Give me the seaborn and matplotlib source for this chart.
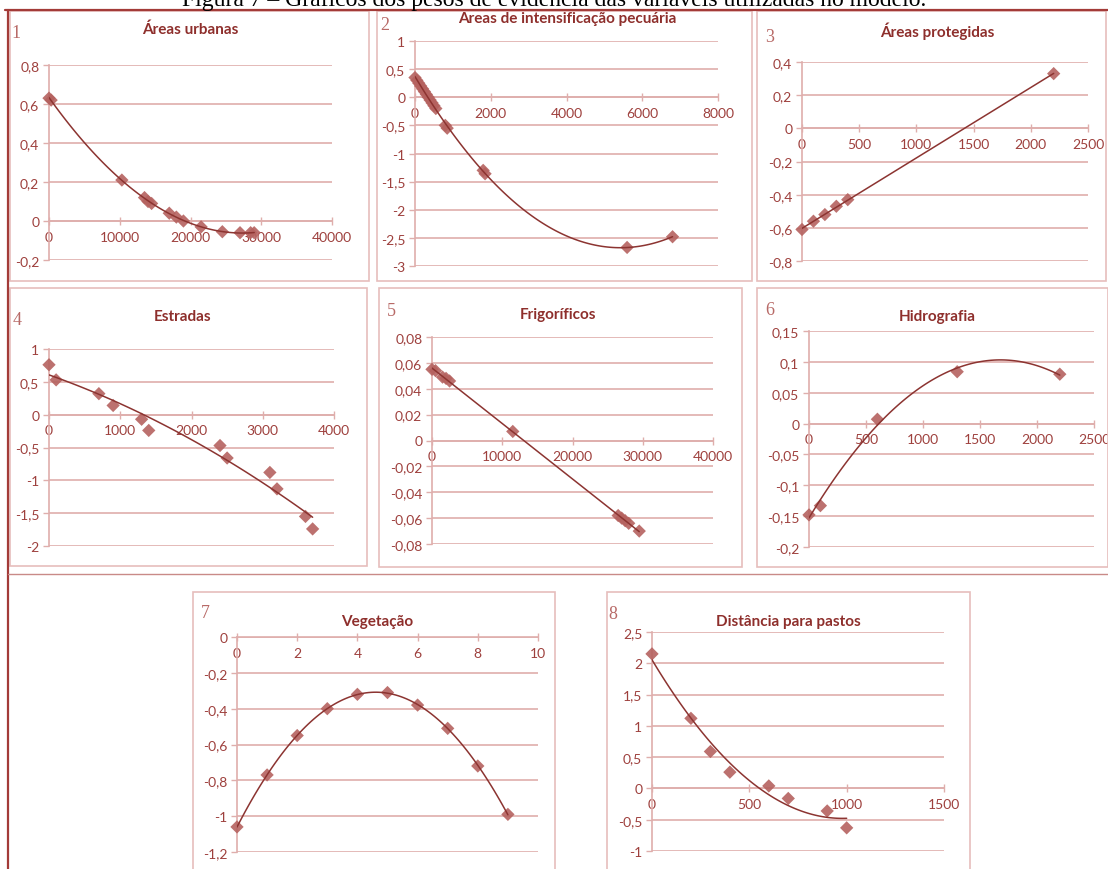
import numpy as np
import pandas as pd
import matplotlib
matplotlib.use("Agg")
import matplotlib.pyplot as plt
import seaborn as sns
from matplotlib.patches import Rectangle
from matplotlib.lines import Line2D
from matplotlib.ticker import FuncFormatter

sns.set_theme(style="white")
plt.rcParams["font.family"] = ["Liberation Sans Narrow", "Lato", "DejaVu Sans"]

W, H = 1108, 870

# ---------------- data ----------------
fig_title = "Figura 7 – Gráficos dos pesos de evidência das variáveis utilizadas no modelo."

t1 = "Áreas urbanas"
x1 = [0, 300, 10300, 13500, 14000, 14500, 17000, 18000, 19000, 21500, 24500, 27000, 28500, 29000]
y1 = [0.63, 0.62, 0.21, 0.12, 0.10, 0.09, 0.04, 0.02, 0.00, -0.03, -0.055, -0.06, -0.06, -0.06]
xt1 = [0, 10000, 20000, 30000, 40000]
yt1 = [-0.2, 0, 0.2, 0.4, 0.6, 0.8]

t2 = "Areas de intensificação pecuária"
x2 = [0, 50, 100, 150, 200, 250, 300, 350, 400, 450, 500, 550, 800, 850, 1800, 1850, 5600, 6800]
y2 = [0.35, 0.30, 0.25, 0.20, 0.15, 0.10, 0.05, 0.0, -0.05, -0.10, -0.15, -0.20, -0.50, -0.55, -1.30, -1.36, -2.67, -2.48]
xt2 = [0, 2000, 4000, 6000, 8000]
yt2 = [-3, -2.5, -2, -1.5, -1, -0.5, 0, 0.5, 1]

t3 = "Áreas protegidas"
x3 = [0, 100, 200, 300, 400, 2200]
y3 = [-0.61, -0.56, -0.52, -0.47, -0.43, 0.33]
xt3 = [0, 500, 1000, 1500, 2000, 2500]
yt3 = [-0.8, -0.6, -0.4, -0.2, 0, 0.2, 0.4]

t4 = "Estradas"
x4 = [0, 100, 700, 900, 1300, 1400, 2400, 2500, 3100, 3200, 3600, 3700]
y4 = [0.76, 0.53, 0.32, 0.14, -0.07, -0.24, -0.47, -0.66, -0.88, -1.13, -1.55, -1.74]
xt4 = [0, 1000, 2000, 3000, 4000]
yt4 = [-2, -1.5, -1, -0.5, 0, 0.5, 1]

t5 = "Frigoríficos"
x5 = [0, 500, 1500, 2000, 2500, 11500, 26500, 27000, 27500, 28000, 29500]
y5 = [0.055, 0.054, 0.049, 0.048, 0.046, 0.007, -0.058, -0.060, -0.062, -0.064, -0.070]
xt5 = [0, 10000, 20000, 30000, 40000]
yt5 = [-0.08, -0.06, -0.04, -0.02, 0, 0.02, 0.04, 0.06, 0.08]

t6 = "Hidrografia"
x6 = [0, 100, 600, 1300, 2200]
y6 = [-0.148, -0.133, 0.007, 0.084, 0.080]
xt6 = [0, 500, 1000, 1500, 2000, 2500]
yt6 = [-0.2, -0.15, -0.1, -0.05, 0, 0.05, 0.1, 0.15]

t7 = "Vegetação"
x7 = [0, 1, 2, 3, 4, 5, 6, 7, 8, 9]
y7 = [-1.06, -0.77, -0.55, -0.40, -0.32, -0.31, -0.38, -0.51, -0.72, -0.99]
xt7 = [0, 2, 4, 6, 8, 10]
yt7 = [-1.2, -1, -0.8, -0.6, -0.4, -0.2, 0]

t8 = "Distância para pastos"
x8 = [0, 200, 300, 400, 600, 700, 900, 1000]
y8 = [2.15, 1.12, 0.59, 0.26, 0.04, -0.16, -0.36, -0.63]
xt8 = [0, 500, 1000, 1500]
yt8 = [-1, -0.5, 0, 0.5, 1, 1.5, 2, 2.5]

# ---------------- style ----------------
GRID = "#DFAEAC"
TICK = "#9E403D"
TITLE = "#8E2F2C"
MARK = "#B5625F"
LINE = "#8C3431"
BOX = "#E6BEBC"
DARK = "#A33B38"


def prect(x0, y0, x1, y1):
    return [x0 / W, 1 - y1 / H, (x1 - x0) / W, (y1 - y0) / H]


def fmt(v, pos=None):
    if abs(v) < 1e-12:
        return "0"
    s = f"{v:g}"
    return s.replace(".", ",")


fig = plt.figure(figsize=(W / 100, H / 100), dpi=100)
fig.patch.set_facecolor("white")

panels = [
    # title, x, y, xticks, yticks, order, num, axis rect(px), box(px), title pos, num pos
    (t1, x1, y1, xt1, yt1, 2, "1", (49, 66, 332, 261), (10, 12, 369, 282), (190, 30), (16, 34)),
    (t2, x2, y2, xt2, yt2, 2, "2", (415, 42, 718, 267), (377, 12, 752, 282), (567, 19), (385, 26)),
    (t3, x3, y3, xt3, yt3, 1, "3", (802, 63, 1088, 262), (757, 12, 1106, 282), (937, 31), (770, 38)),
    (t4, x4, y4, xt4, yt4, 2, "4", (49, 350, 334, 547), (10, 289, 367, 567), (183, 317), (17, 321)),
    (t5, x5, y5, xt5, yt5, 1, "5", (432, 338, 713, 545), (379, 289, 742, 568), (558, 315), (391, 312)),
    (t6, x6, y6, xt6, yt6, 2, "6", (809, 332, 1094, 548), (757, 289, 1108, 568), (937, 317), (770, 311)),
    (t7, x7, y7, xt7, yt7, 2, "7", (237, 638, 538, 853), (193, 593, 555, 872), (377, 622), (205, 613)),
    (t8, x8, y8, xt8, yt8, 2, "8", (652, 633, 944, 852), (607, 593, 970, 872), (788, 622), (613, 615)),
]

for (title, xs, ys, xt, yt, order, num, arect, box, tpos, npos) in panels:
    # chart-area border
    bx0, by0, bx1, by1 = box
    fig.add_artist(Rectangle((bx0 / W, 1 - by1 / H), (bx1 - bx0) / W, (by1 - by0) / H,
                             transform=fig.transFigure, fill=False, ec=BOX, lw=1.2))
    ax = fig.add_axes(prect(*arect))
    ax.set_facecolor("none")
    df = pd.DataFrame({"x": xs, "y": ys})
    sns.regplot(data=df, x="x", y="y", order=order, ci=None, ax=ax, marker="D",
                scatter_kws=dict(s=46, color=MARK, edgecolors="none", alpha=0.9,
                                 clip_on=False, zorder=3),
                line_kws=dict(color=LINE, lw=1.1, zorder=4))
    ax.set_xlim(xt[0], xt[-1])
    ax.set_ylim(yt[0], yt[-1])
    ax.set_xticks(xt)
    ax.set_yticks(yt)
    ax.xaxis.set_major_formatter(FuncFormatter(fmt))
    ax.yaxis.set_major_formatter(FuncFormatter(fmt))
    ax.set_xlabel("")
    ax.set_ylabel("")
    for s in ("top", "right"):
        ax.spines[s].set_visible(False)
    ax.spines["bottom"].set_position(("data", 0))
    ax.spines["bottom"].set_color(GRID)
    ax.spines["left"].set_color(GRID)
    ax.spines["bottom"].set_linewidth(1.2)
    ax.spines["left"].set_linewidth(1.2)
    ax.grid(axis="y", color=GRID, lw=1.2)
    ax.grid(axis="x", visible=False)
    ax.set_axisbelow(True)
    ax.tick_params(axis="x", direction="inout", length=6, width=1, color=GRID,
                   labelcolor=TICK, labelsize=10, pad=4, bottom=True)
    ax.tick_params(axis="y", direction="out", length=4, width=1, color=GRID,
                   labelcolor=TICK, labelsize=10, pad=3, left=True)
    fig.text(tpos[0] / W, 1 - tpos[1] / H, title, ha="center", va="center",
             color=TITLE, fontsize=11, fontweight="bold")
    fig.text(npos[0] / W, 1 - npos[1] / H, num, ha="center", va="center",
             color="#B86A67", fontsize=13, family="Liberation Serif")

# table borders
fig.add_artist(Line2D([5 / W, 1], [1 - 11 / H, 1 - 11 / H], transform=fig.transFigure,
                      color=DARK, lw=1.6))
fig.add_artist(Line2D([8 / W, 8 / W], [0, 1 - 11 / H], transform=fig.transFigure,
                      color=DARK, lw=1.6))
fig.add_artist(Line2D([8 / W, 1], [1 - 575 / H, 1 - 575 / H], transform=fig.transFigure,
                      color="#C98A88", lw=1.0))

fig.text(554 / W, 1 - 6 / H, fig_title, ha="center", va="baseline",
         fontsize=17, family="Liberation Serif", color="black")

fig.savefig("out.png", dpi=100)
